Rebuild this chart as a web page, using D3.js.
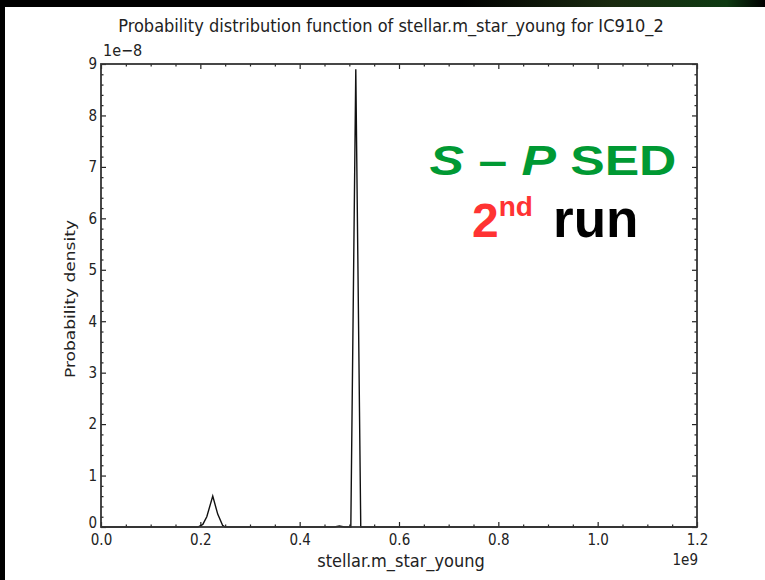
<!DOCTYPE html>
<html>
<head>
<meta charset="utf-8">
<script src="https://cdn.jsdelivr.net/npm/d3@7"></script>
<style>
  html, body { margin: 0; padding: 0; background: #000; }
  svg { display: block; }
  .mpl { font-family: "DejaVu Sans Condensed", "DejaVu Sans", sans-serif; font-stretch: condensed; fill: #222; }
</style>
</head>
<body>
<div id="chart"></div>
<script>
// values: x in units of 1e9, density in units of 1e-8
const massValues = [0.0, 0.195, 0.205, 0.213, 0.225, 0.235, 0.245, 0.25, 0.47, 0.48, 0.49, 0.503, 0.513, 0.523, 1.2];
const densityValues = [0.0, 0.0, 0.05, 0.2, 0.6, 0.25, 0.03, 0.0, 0.0, 0.02, 0.0, 0.0, 8.9, 0.0, 0.0];
const xTicks = [0.0, 0.2, 0.4, 0.6, 0.8, 1.0, 1.2];
const yTicks = [0, 1, 2, 3, 4, 5, 6, 7, 8, 9];
const titleText = "Probability distribution function of stellar.m_star_young for IC910_2";

const chart = (() => {
    const W = 765, H = 580;
    const plot = { left: 101, right: 697, top: 64, bottom: 527 };

    const svg = d3.select("#chart").append("svg")
        .attr("width", W)
        .attr("height", H);

    // slide background: black frame, greenish streaks at the top right
    const defs = svg.append("defs");
    const grad = defs.append("linearGradient").attr("id", "streak")
        .attr("x1", "0").attr("x2", "1").attr("y1", "0").attr("y2", "0");
    grad.append("stop").attr("offset", "0").attr("stop-color", "#000");
    grad.append("stop").attr("offset", "0.6").attr("stop-color", "#000");
    grad.append("stop").attr("offset", "0.8").attr("stop-color", "#1a2a10");
    grad.append("stop").attr("offset", "0.95").attr("stop-color", "#0e3a12");
    grad.append("stop").attr("offset", "1").attr("stop-color", "#000");

    svg.append("rect").attr("width", W).attr("height", H).attr("fill", "#000");
    svg.append("rect").attr("width", W).attr("height", 7).attr("fill", "url(#streak)");
    svg.append("rect").attr("x", 5).attr("y", 7).attr("width", W - 5).attr("height", H - 7).attr("fill", "#fff");

    const x = d3.scaleLinear().domain([0, 1.2]).range([plot.left, plot.right]);
    const y = d3.scaleLinear().domain([0, 9]).range([plot.bottom, plot.top]);

    const minorX = d3.range(0, 1.2001, 0.05).filter(v => Math.abs(Math.round(v * 5) - v * 5) > 1e-6);
    const minorY = d3.range(0, 9.001, 0.2).filter(v => Math.abs(Math.round(v) - v) > 1e-6);

    // bottom axis with labels, ticks pointing inward
    const gBottom = svg.append("g").attr("transform", `translate(0,${plot.bottom})`)
        .call(d3.axisBottom(x).tickValues(xTicks).tickFormat(d3.format(".1f")).tickSizeInner(-5).tickSizeOuter(0).tickPadding(10));
    svg.append("g").attr("transform", `translate(0,${plot.bottom})`)
        .call(d3.axisBottom(x).tickValues(minorX).tickFormat("").tickSizeInner(-2.5).tickSizeOuter(0));
    // top axis, ticks only
    svg.append("g").attr("transform", `translate(0,${plot.top})`)
        .call(d3.axisTop(x).tickValues(xTicks).tickFormat("").tickSizeInner(-5).tickSizeOuter(0));
    svg.append("g").attr("transform", `translate(0,${plot.top})`)
        .call(d3.axisTop(x).tickValues(minorX).tickFormat("").tickSizeInner(-2.5).tickSizeOuter(0));

    // left axis with labels
    const gLeft = svg.append("g").attr("transform", `translate(${plot.left},0)`)
        .call(d3.axisLeft(y).tickValues(yTicks).tickFormat(d3.format("d")).tickSizeInner(-5).tickSizeOuter(0).tickPadding(4));
    svg.append("g").attr("transform", `translate(${plot.left},0)`)
        .call(d3.axisLeft(y).tickValues(minorY).tickFormat("").tickSizeInner(-2.5).tickSizeOuter(0));
    // right axis, ticks only
    svg.append("g").attr("transform", `translate(${plot.right},0)`)
        .call(d3.axisRight(y).tickValues(yTicks).tickFormat("").tickSizeInner(-5).tickSizeOuter(0));
    svg.append("g").attr("transform", `translate(${plot.right},0)`)
        .call(d3.axisRight(y).tickValues(minorY).tickFormat("").tickSizeInner(-2.5).tickSizeOuter(0));

    svg.selectAll(".domain").remove();
    svg.selectAll(".tick line").attr("stroke", "#222").attr("stroke-width", 1.2);
    svg.selectAll(".tick text")
        .attr("class", "mpl")
        .attr("font-family", null)
        .attr("font-size", null)
        .attr("fill", null)
        .style("font-size", "15px");
    gBottom.selectAll(".tick text").attr("dy", "0.55em");
    // the "0" sits right on top of "0.0"; lift it a touch so the two don't collide
    gLeft.selectAll(".tick text").filter(d => d === 0).attr("dy", "0.05em");

    // the curve
    const points = massValues.map((m, i) => [m, densityValues[i]]);
    const line = d3.line().x(d => x(d[0])).y(d => y(d[1]));
    svg.append("path")
        .datum(points)
        .attr("d", line)
        .attr("fill", "none")
        .attr("stroke", "#111")
        .attr("stroke-width", 1.4);

    // frame
    svg.append("rect")
        .attr("x", plot.left).attr("y", plot.top)
        .attr("width", plot.right - plot.left)
        .attr("height", plot.bottom - plot.top)
        .attr("fill", "none")
        .attr("stroke", "#333")
        .attr("stroke-width", 1.8);

    // offset texts
    svg.append("text").attr("class", "mpl").attr("x", plot.left + 2).attr("y", 56)
        .style("font-size", "16px")
        .text("1e\u22128");
    svg.append("text").attr("class", "mpl").attr("x", plot.right + 1).attr("y", 565)
        .attr("text-anchor", "end")
        .style("font-size", "15px")
        .text("1e9");

    // title and axis labels
    svg.append("text").attr("class", "mpl").attr("x", 391).attr("y", 32)
        .attr("text-anchor", "middle")
        .style("font-size", "18px")
        .text(titleText);
    svg.append("text").attr("class", "mpl").attr("x", 401).attr("y", 567)
        .attr("text-anchor", "middle")
        .style("font-size", "18px")
        .text("stellar.m_star_young");
    svg.append("text").attr("class", "mpl")
        .attr("transform", "translate(75,299) rotate(-90)")
        .attr("text-anchor", "middle")
        .attr("textLength", 158)
        .attr("lengthAdjust", "spacingAndGlyphs")
        .style("font-size", "13.5px")
        .style("font-stretch", "normal")
        .text("Probability density");

    // slide annotation
    const note = svg.append("g").style("font-family", "Liberation Sans, Arial, sans-serif").style("font-weight", "bold");
    const l1 = note.append("text")
        .attr("transform", "translate(553,175) scale(1.23,1)")
        .attr("text-anchor", "middle")
        .style("font-size", "42px").attr("fill", "#009933");
    l1.append("tspan").style("font-style", "italic").text("S");
    l1.append("tspan").text(" \u2013 ");
    l1.append("tspan").style("font-style", "italic").text("P");
    l1.append("tspan").text(" SED");

    const l2 = note.append("text").attr("x", 472).attr("y", 237);
    l2.append("tspan").attr("fill", "#ff3333").style("font-size", "48px").text("2");
    l2.append("tspan").attr("fill", "#ff3333").style("font-size", "28px").attr("dy", -21).text("nd");
    l2.append("tspan").attr("fill", "#000").style("font-size", "53px").attr("x", 553).attr("dy", 21).text("run");

    return svg;
})();
</script>
</body>
</html>
